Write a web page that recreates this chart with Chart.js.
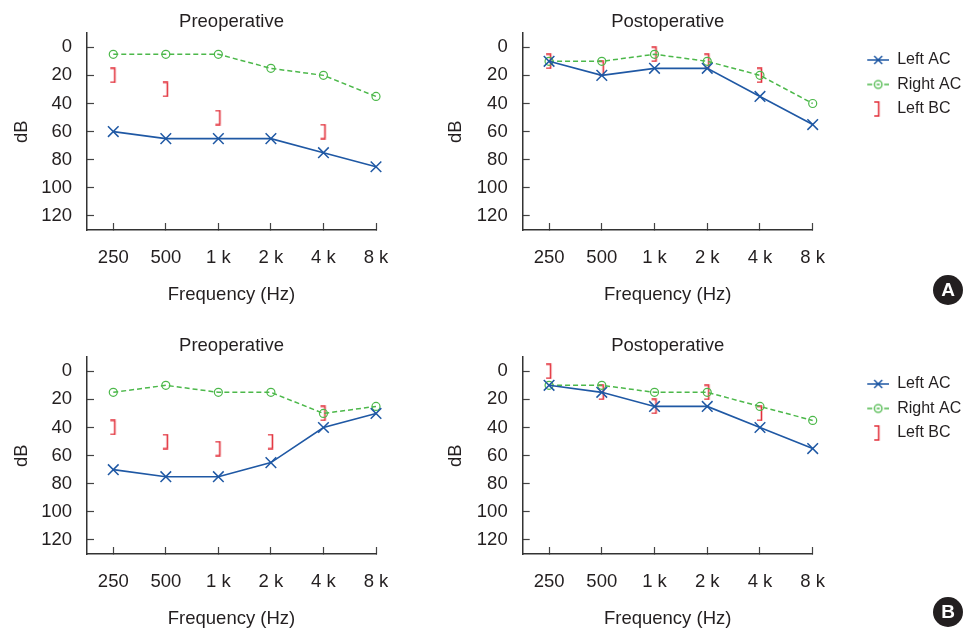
<!DOCTYPE html>
<html>
<head>
<meta charset="utf-8">
<title>Audiograms</title>
<script src="https://cdn.jsdelivr.net/npm/chart.js"></script>
<style>
  html, body { margin: 0; padding: 0; background: #fff; overflow: hidden; }
  #wrap { position: relative; width: 965px; height: 630px; overflow: hidden; }
  #wrap canvas { position: absolute; }
  .badge { position: absolute; width: 30px; height: 30px; border-radius: 50%; background: #231f20; color: #fff;
           font: bold 19px 'Liberation Sans', Arial, sans-serif; text-align: center; line-height: 30px; }
</style>
</head>
<body>
<div id="wrap">
  <canvas id="preA" width="420" height="315" style="left:0;top:0"></canvas>
  <canvas id="postA" width="545" height="315" style="left:420px;top:0"></canvas>
  <canvas id="preB" width="420" height="315" style="left:0;top:324px"></canvas>
  <canvas id="postB" width="545" height="315" style="left:420px;top:324px"></canvas>
  <div class="badge" style="left:933px;top:275px">A</div>
  <div class="badge" style="left:933px;top:597px">B</div>
</div>

<script>
  // frequencies (x) and hearing level ticks (y, dB)
  const freqLabels = ['250', '500', '1 k', '2 k', '4 k', '8 k'];
  const yTicks = [0, 20, 40, 60, 80, 100, 120];

  // A - preoperative
  const preA_leftAC = [60, 65, 65, 65, 75, 85];
  const preA_rightAC = [5, 5, 5, 15, 20, 35];
  const preA_leftBC = [20, 30, 50, null, 60, null];
  // A - postoperative
  const postA_leftAC = [10, 20, 15, 15, 35, 55];
  const postA_rightAC = [10, 10, 5, 10, 20, 40];
  const postA_leftBC = [10, 15, 5, 10, 20, null];
  // B - preoperative
  const preB_leftAC = [70, 75, 75, 65, 40, 30];
  const preB_rightAC = [15, 10, 15, 15, 30, 25];
  const preB_leftBC = [40, 50, 55, 50, 30, null];
  // B - postoperative
  const postB_leftAC = [10, 15, 25, 25, 40, 55];
  const postB_rightAC = [10, 10, 15, 15, 25, 35];
  const postB_leftBC = [0, 15, 25, 15, 30, null];

  const BLUE = '#1f58a4';
  const GREEN = '#4cb84a';
  const RED = '#e2303b';
  const INK = '#231f20';
  const FONT = "'Liberation Sans', Arial, Helvetica, sans-serif";

  function makeCanvas(w, h, draw) {
    const c = document.createElement('canvas');
    c.width = w;
    c.height = h;
    draw(c.getContext('2d'));
    return c;
  }

  // "]" marker for bone conduction
  function drawBracket(ctx, cx) {
    ctx.strokeStyle = RED;
    ctx.lineWidth = 1.6;
    ctx.beginPath();
    ctx.moveTo(cx - 3.5, 1);
    ctx.lineTo(cx + 1, 1);
    ctx.lineTo(cx + 1, 15);
    ctx.lineTo(cx - 3.5, 15);
    ctx.stroke();
  }
  const bracket = makeCanvas(10, 16, ctx => drawBracket(ctx, 5.5));

  // legend icons: wide canvas, symbol sits at the right end
  const legendIcons = [
    makeCanvas(68, 16, ctx => {
      ctx.strokeStyle = BLUE;
      ctx.lineWidth = 1.5;
      ctx.beginPath();
      ctx.moveTo(46, 8); ctx.lineTo(68, 8);
      ctx.moveTo(53, 4); ctx.lineTo(61, 12);
      ctx.moveTo(53, 12); ctx.lineTo(61, 4);
      ctx.stroke();
    }),
    makeCanvas(68, 16, ctx => {
      ctx.strokeStyle = GREEN;
      ctx.lineWidth = 1.5;
      ctx.beginPath();
      ctx.moveTo(46, 8); ctx.lineTo(51, 8);
      ctx.moveTo(63, 8); ctx.lineTo(68, 8);
      ctx.moveTo(55.5, 8); ctx.lineTo(58.5, 8);
      ctx.stroke();
      ctx.lineWidth = 1.3;
      ctx.beginPath();
      ctx.arc(57, 8, 3.8, 0, Math.PI * 2);
      ctx.stroke();
    }),
    makeCanvas(68, 16, ctx => drawBracket(ctx, 56.5))
  ];

  function pts(values) {
    return values.map((v, i) => (v === null ? null : { x: i, y: v })).filter(p => p);
  }

  const tickFont = { family: FONT, size: 18.5 };

  function buildChart(id, title, leftAC, rightAC, leftBC, opts) {
    new Chart(document.getElementById(id), {
      type: 'line',
      data: {
        datasets: [
          {
            label: 'Left AC',
            data: pts(leftAC),
            borderColor: BLUE,
            borderWidth: 1.6,
            pointStyle: 'crossRot',
            pointRadius: 7.5,
            pointBorderWidth: 1.5,
            pointBorderColor: BLUE,
            pointBackgroundColor: BLUE,
            tension: 0
          },
          {
            label: 'Right AC',
            data: pts(rightAC),
            borderColor: GREEN,
            borderWidth: 1.5,
            borderDash: [5, 3],
            pointStyle: 'circle',
            pointRadius: 4,
            pointBorderWidth: 1.2,
            pointBorderColor: GREEN,
            pointBackgroundColor: 'rgba(0,0,0,0)',
            tension: 0
          },
          {
            label: 'Left BC',
            data: pts(leftBC),
            showLine: false,
            pointStyle: bracket,
            pointRadius: 6
          }
        ]
      },
      options: {
        responsive: false,
        animation: false,
        events: [],
        clip: false,
        layout: { padding: { right: opts.padRight } },
        scales: {
          x: {
            type: 'linear',
            min: -0.5,
            max: 5,
            afterBuildTicks: s => { s.ticks = freqLabels.map((_, i) => ({ value: i })); },
            afterFit: s => { s.height = 85; },
            ticks: {
              callback: v => freqLabels[v],
              font: tickFont,
              color: INK,
              padding: 24,
              maxRotation: 0,
              autoSkip: false
            },
            grid: { drawOnChartArea: false, tickLength: -7, tickColor: '#444', tickWidth: 1.2 },
            border: { color: '#333', width: 1.5 },
            title: {
              display: true,
              text: 'Frequency (Hz)',
              font: tickFont,
              color: INK,
              padding: { top: 0, bottom: 9 }
            }
          },
          y: {
            min: -10,
            max: 130,
            reverse: true,
            afterBuildTicks: s => { s.ticks = yTicks.map(v => ({ value: v })); },
            afterFit: s => { s.width = opts.yWidth; },
            ticks: { font: tickFont, color: INK, padding: 22, autoSkip: false },
            grid: { drawOnChartArea: false, tickLength: -7, tickColor: '#444', tickWidth: 1.2 },
            border: { color: '#333', width: 1.5 },
            title: {
              display: true,
              text: 'dB',
              font: tickFont,
              color: INK,
              padding: { top: opts.yTitlePad, bottom: 0 }
            }
          }
        },
        plugins: {
          title: {
            display: true,
            text: title,
            fullSize: false,
            font: { family: FONT, size: 18.5, weight: 'normal' },
            color: INK,
            padding: { top: 11, bottom: 0 }
          },
          legend: opts.legend ? {
            display: true,
            position: 'right',
            align: 'start',
            maxWidth: 152.3,
            title: { display: true, text: '', font: { size: 10, lineHeight: 1 }, padding: { top: 33.5, bottom: 0 } },
            labels: {
              usePointStyle: true,
              pointStyleWidth: 68,
              boxHeight: 16,
              padding: 8.5,
              color: INK,
              font: { family: FONT, size: 16 },
              generateLabels: chart => chart.data.datasets.map((ds, i) => ({
                text: ds.label,
                pointStyle: legendIcons[i],
                datasetIndex: i,
                hidden: false,
                lineWidth: 0,
                fillStyle: 'rgba(0,0,0,0)',
                strokeStyle: 'rgba(0,0,0,0)',
                fontColor: INK
              }))
            }
          } : { display: false },
          tooltip: { enabled: false }
        }
      }
    });
  }

  const leftOpts = { yWidth: 87, yTitlePad: 11, padRight: 44, legend: false };
  const rightOpts = { yWidth: 102.7, yTitlePad: 25, padRight: 0, legend: true };

  buildChart('preA', 'Preoperative', preA_leftAC, preA_rightAC, preA_leftBC, leftOpts);
  buildChart('postA', 'Postoperative', postA_leftAC, postA_rightAC, postA_leftBC, rightOpts);
  buildChart('preB', 'Preoperative', preB_leftAC, preB_rightAC, preB_leftBC, leftOpts);
  buildChart('postB', 'Postoperative', postB_leftAC, postB_rightAC, postB_leftBC, rightOpts);
</script>
</body>
</html>
